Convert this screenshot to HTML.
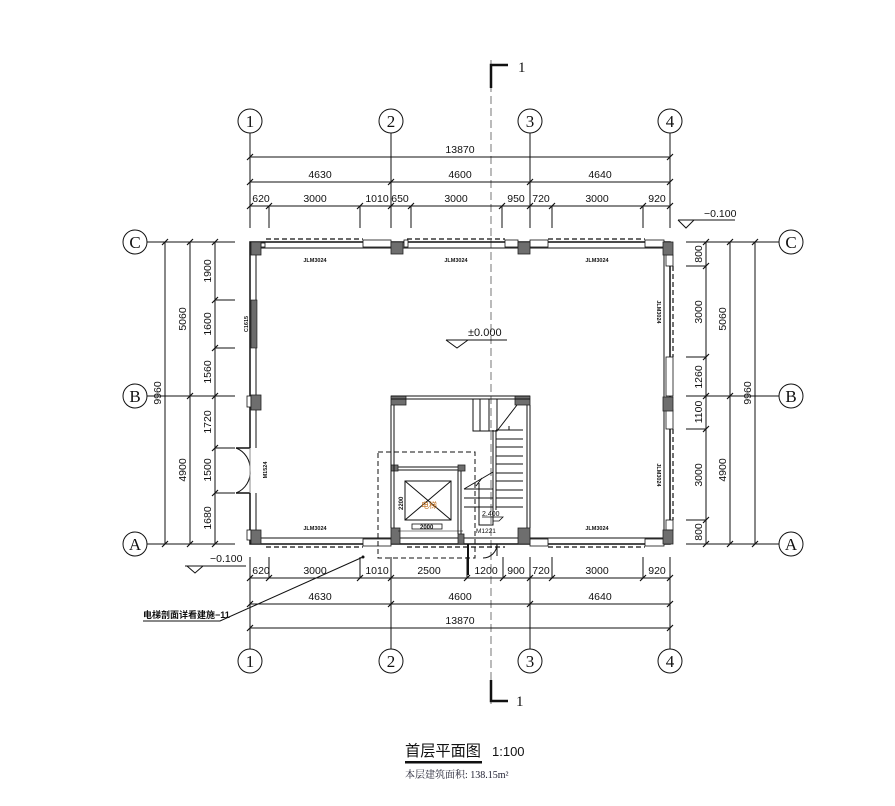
<!DOCTYPE html>
<html><head><meta charset="utf-8"><style>
html,body{margin:0;padding:0;background:#fff}
svg{display:block}
text{font-family:"Liberation Sans","Noto Sans CJK SC",sans-serif;fill:#111}
.d{font-size:10.5px}
.j{font-size:5.5px;font-weight:bold}
</style></head><body>
<svg width="895" height="806" viewBox="0 0 895 806" xmlns="http://www.w3.org/2000/svg">
<g stroke="#111" stroke-width="1" fill="none">
<line x1="491" y1="60" x2="491" y2="705" stroke-dasharray="8,4" stroke="#555" stroke-width="0.8"/>
<path d="M508 65 H491 V88" stroke-width="2.5"/>
<path d="M508 701 H491 V680" stroke-width="2.5"/>

<circle cx="250" cy="121" r="12"/><circle cx="391" cy="121" r="12"/><circle cx="530" cy="121" r="12"/><circle cx="670" cy="121" r="12"/>
<circle cx="250" cy="661" r="12"/><circle cx="391" cy="661" r="12"/><circle cx="530" cy="661" r="12"/><circle cx="670" cy="661" r="12"/>
<circle cx="135" cy="242" r="12"/><circle cx="135" cy="396" r="12"/><circle cx="135" cy="544" r="12"/>
<circle cx="791" cy="242" r="12"/><circle cx="791" cy="396" r="12"/><circle cx="791" cy="544" r="12"/>

<path d="M250 133V228M391 133V228M530 133V228M670 133V228"/>
<path d="M269 206V228M360 206V228M411 206V228M502 206V228M552 206V228M643 206V228"/>
<path d="M250 157H670M250 182H670M250 206H670"/>
<path d="M250 557V649M391 557V649M530 557V649M670 557V649"/>
<path d="M269 557V578M360 557V578M467 557V578M503 557V578M552 557V578M643 557V578"/>
<path d="M250 578H670M250 604H670M250 628H670"/>
<path d="M147 242H235M147 396H235M147 544H235M215 300H235M215 348H235M215 448H235M215 493H235"/>
<path d="M165 242V544M190 242V544M215 242V544"/>
<path d="M686 242H779M686 396H779M686 544H779M686 266H706M686 357H706M686 429H706M686 520H706"/>
<path d="M706 242V544M730 242V544M755 242V544"/>
</g>
<g stroke="#111" stroke-width="1.2">
<path d="M247 160l6-6M667 160l6-6 M247 185l6-6M388 185l6-6M527 185l6-6M667 185l6-6
M247 209l6-6M266 209l6-6M357 209l6-6M388 209l6-6M408 209l6-6M499 209l6-6M527 209l6-6M549 209l6-6M640 209l6-6M667 209l6-6
M247 581l6-6M266 581l6-6M357 581l6-6M388 581l6-6M464 581l6-6M500 581l6-6M527 581l6-6M549 581l6-6M640 581l6-6M667 581l6-6
M247 607l6-6M388 607l6-6M527 607l6-6M667 607l6-6 M247 631l6-6M667 631l6-6
M162 245l6-6M162 547l6-6 M187 245l6-6M187 399l6-6M187 547l6-6
M212 245l6-6M212 303l6-6M212 351l6-6M212 399l6-6M212 451l6-6M212 496l6-6M212 547l6-6
M703 245l6-6M703 269l6-6M703 360l6-6M703 399l6-6M703 432l6-6M703 523l6-6M703 547l6-6
M727 245l6-6M727 399l6-6M727 547l6-6 M752 245l6-6M752 547l6-6"/>
</g>

<g style="font-family:'Liberation Serif',serif;font-size:17px" text-anchor="middle">
<text x="250" y="127" style="font-family:'Liberation Serif',serif">1</text><text x="391" y="127" style="font-family:'Liberation Serif',serif">2</text><text x="530" y="127" style="font-family:'Liberation Serif',serif">3</text><text x="670" y="127" style="font-family:'Liberation Serif',serif">4</text>
<text x="250" y="667" style="font-family:'Liberation Serif',serif">1</text><text x="391" y="667" style="font-family:'Liberation Serif',serif">2</text><text x="530" y="667" style="font-family:'Liberation Serif',serif">3</text><text x="670" y="667" style="font-family:'Liberation Serif',serif">4</text>
<text x="135" y="248" style="font-family:'Liberation Serif',serif">C</text><text x="135" y="402" style="font-family:'Liberation Serif',serif">B</text><text x="135" y="550" style="font-family:'Liberation Serif',serif">A</text>
<text x="791" y="248" style="font-family:'Liberation Serif',serif">C</text><text x="791" y="402" style="font-family:'Liberation Serif',serif">B</text><text x="791" y="550" style="font-family:'Liberation Serif',serif">A</text>
</g>
<text x="518" y="72" style="font-family:'Liberation Serif',serif;font-size:15px">1</text>
<text x="516" y="706" style="font-family:'Liberation Serif',serif;font-size:15px">1</text>

<g class="d" text-anchor="middle">
<text x="460" y="153">13870</text>
<text x="320" y="178">4630</text><text x="460" y="178">4600</text><text x="600" y="178">4640</text>
<text x="261" y="202">620</text><text x="315" y="202">3000</text><text x="377" y="202">1010</text><text x="400" y="202">650</text><text x="456" y="202">3000</text><text x="516" y="202">950</text><text x="541" y="202">720</text><text x="597" y="202">3000</text><text x="657" y="202">920</text>
<text x="261" y="574">620</text><text x="315" y="574">3000</text><text x="377" y="574">1010</text><text x="429" y="574">2500</text><text x="486" y="574">1200</text><text x="516" y="574">900</text><text x="541" y="574">720</text><text x="597" y="574">3000</text><text x="657" y="574">920</text>
<text x="320" y="600">4630</text><text x="460" y="600">4600</text><text x="600" y="600">4640</text>
<text x="460" y="624">13870</text>
<text transform="translate(161,393) rotate(-90)">9960</text>
<text transform="translate(186,319) rotate(-90)">5060</text>
<text transform="translate(186,470) rotate(-90)">4900</text>
<text transform="translate(211,271) rotate(-90)">1900</text>
<text transform="translate(211,324) rotate(-90)">1600</text>
<text transform="translate(211,372) rotate(-90)">1560</text>
<text transform="translate(211,422) rotate(-90)">1720</text>
<text transform="translate(211,470) rotate(-90)">1500</text>
<text transform="translate(211,518) rotate(-90)">1680</text>
<text transform="translate(702,254) rotate(-90)">800</text>
<text transform="translate(702,312) rotate(-90)">3000</text>
<text transform="translate(702,377) rotate(-90)">1260</text>
<text transform="translate(702,412) rotate(-90)">1100</text>
<text transform="translate(702,475) rotate(-90)">3000</text>
<text transform="translate(702,532) rotate(-90)">800</text>
<text transform="translate(726,319) rotate(-90)">5060</text>
<text transform="translate(726,470) rotate(-90)">4900</text>
<text transform="translate(751,393) rotate(-90)">9960</text>
</g>

<g stroke="#111" fill="none" stroke-width="1">
<path d="M678 220H735M678 220l8 8l8-8"/>
<path d="M185 566H246M187 566l8 7l8-7"/>
<path d="M446 340H507M446 340l11 8l11-8"/>
</g>
<text x="704" y="217" class="d">−0.100</text>
<text x="210" y="562" class="d">−0.100</text>
<text x="468" y="336" style="font-size:11px">±0.000</text>

<g stroke="#111" fill="none">
<rect x="250" y="242" width="420" height="302" stroke-width="1.5"/>
<rect x="256" y="248" width="408" height="290" stroke-width="1"/>
<g stroke-dasharray="5,3" stroke-width="1.2">
<path d="M266 239H363M407 239H505M548 239H645M266 547H363M407 547H505M548 547H645M673 266V357M673 429V520"/>
</g>
</g>
<g fill="#fff" stroke="#111" stroke-width="0.8">
<rect x="261" y="243" width="4" height="4"/><rect x="363" y="240" width="28" height="7"/><rect x="404" y="240" width="4" height="7"/>
<rect x="505" y="240" width="13" height="7"/><rect x="530" y="240" width="18" height="7"/><rect x="645" y="240" width="19" height="7"/>
<rect x="363" y="539" width="28" height="7"/><rect x="530" y="539" width="18" height="7"/><rect x="645" y="539" width="19" height="7"/>
<rect x="666" y="255" width="7" height="11"/><rect x="666" y="357" width="7" height="39"/><rect x="666" y="410" width="7" height="19"/><rect x="666" y="520" width="7" height="10"/>
<rect x="247" y="396" width="4" height="11"/><rect x="247" y="530" width="4" height="10"/>
</g>
<rect x="251" y="300" width="6" height="48" fill="#6b6b6b" stroke="#111" stroke-width="0.6"/>
<g stroke="#111" fill="none" stroke-width="1">
<rect x="249" y="448" width="8" height="45" fill="#fff" stroke="none"/>
<path d="M250 448H236M250 493H236" stroke-width="1.6"/>
<path d="M236 448A22 22 0 0 1 250 470M236 493A22 22 0 0 0 250 470" />
<line x1="250" y1="448" x2="250" y2="493" stroke="#888"/>
</g>
<g fill="#6e6e6e" stroke="#222" stroke-width="0.8">
<rect x="251" y="242" width="10" height="13"/><rect x="391" y="242" width="12" height="12"/><rect x="518" y="242" width="12" height="12"/><rect x="663" y="242" width="10" height="13"/>
<rect x="251" y="395" width="10" height="15"/><rect x="663" y="397" width="10" height="14"/>
<rect x="251" y="530" width="10" height="14"/><rect x="391" y="528" width="9" height="16"/><rect x="518" y="528" width="12" height="16"/><rect x="663" y="530" width="10" height="14"/>
<rect x="391" y="396" width="15" height="9"/><rect x="515" y="396" width="15" height="9"/>
<rect x="391" y="465" width="7" height="6"/><rect x="458" y="465" width="7" height="6"/><rect x="458" y="534" width="6" height="10"/>
</g>
<g stroke="#111" fill="none" stroke-width="1">
<path d="M391 396H530M391 399H530M391 405V528M394 405V528M527 405V528M530 405V528"/>
<path d="M398 467H458M398 470H458M458 471V534M461 471V534"/>
<path d="M473 399V431H497V399M480 399V431M489 399V431M497 431L517 405M509 430V426"/>
<path d="M493 430V510M496 430V510M496 430H523"/>
<path d="M496 439H523M496 447H523M496 456H523M496 464H523M496 473H523M496 481H523M496 490H523M496 498H523M496 507H523"/>
<path d="M464 489L493 472M464 489H493M464 498H493M464 507H493M479 483V525H493V510"/>
<path d="M479 482L482 478M476 486L479 482"/>
<rect x="405" y="481" width="46" height="39"/>
<path d="M405 481L451 520M451 481L405 520"/>
<rect x="412" y="524" width="30" height="5" stroke-width="0.8"/>
<path d="M398 531H463" stroke-width="0.6"/>
<path d="M468 544V575" stroke-width="2"/>
<path d="M483 558A14 14 0 0 0 497 544M497 544V556" />
<path d="M378 452H475V558H378Z" stroke-dasharray="5,3"/>
<path d="M482 517H503l-4 4h-6" stroke-width="0.8"/>
</g>
<text x="421" y="508" style="font-size:8px;fill:#c07020">电梯</text>
<text transform="translate(403,510) rotate(-90)" style="font-size:6px;font-weight:bold">2200</text>
<text x="420" y="529" style="font-size:6px;font-weight:bold">2000</text>
<text x="482" y="516" style="font-size:7px">2.400</text>
<text x="476" y="533" style="font-size:6.5px">M1221</text>

<g class="j" text-anchor="middle">
<text x="315" y="262">JLM3024</text><text x="456" y="262">JLM3024</text><text x="597" y="262">JLM3024</text>
<text x="315" y="530">JLM3024</text><text x="597" y="530">JLM3024</text>
<text transform="translate(657,312) rotate(90)">JLM3024</text>
<text transform="translate(657,475) rotate(90)">JLM3024</text>
<text transform="translate(248,324) rotate(-90)">C1615</text>
<text transform="translate(267,470) rotate(-90)">M1524</text>
</g>

<g stroke="#111" fill="none" stroke-width="1">
<path d="M143 621H220L363 557"/>
</g>
<circle cx="363" cy="557" r="1.5" fill="#111"/>
<text x="143" y="618" style="font-size:9px;font-weight:bold">电梯剖面详看建施−11</text>

<text x="405" y="756" style="font-size:15.5px" textLength="76" lengthAdjust="spacingAndGlyphs">首层平面图</text>
<text x="492" y="756" style="font-size:13px">1:100</text>
<rect x="405" y="761" width="77" height="2.5" fill="#111"/>
<text x="405" y="778" style="font-size:10px;fill:#223;font-family:'Liberation Serif','Noto Serif CJK SC',serif">本层建筑面积: 138.15m²</text>
</svg>
</body></html>
